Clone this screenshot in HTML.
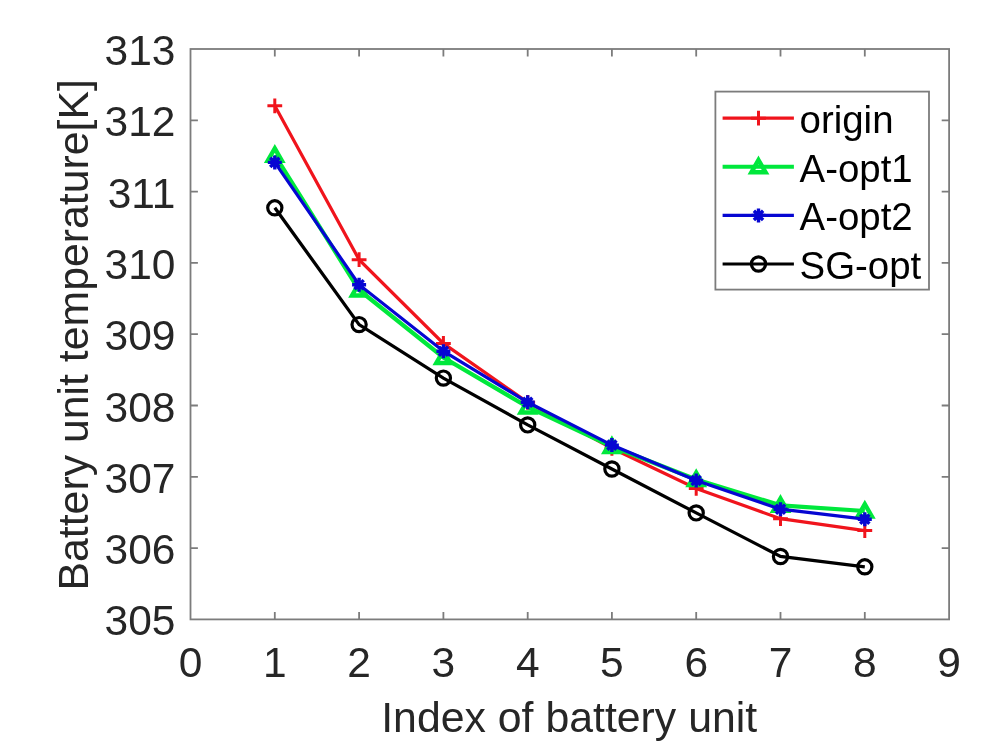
<!DOCTYPE html>
<html lang="en"><head><meta charset="utf-8"><title>Battery unit temperature</title>
<style>html,body{margin:0;padding:0;background:#fff;}body{width:1001px;height:754px;overflow:hidden;}svg{display:block;filter:blur(0.55px);}text{font-family:"Liberation Sans",sans-serif;}</style></head><body>
<svg width="1001" height="754" viewBox="0 0 1001 754">
<rect width="1001" height="754" fill="#fff"/>
<g stroke="#7c7c7c" stroke-width="1.8" fill="none">
<rect x="190.5" y="49.0" width="758.6" height="570.4"/>
<path d="M274.8 619.4 v-7.4 M274.8 49.0 v7.4"/>
<path d="M359.1 619.4 v-7.4 M359.1 49.0 v7.4"/>
<path d="M443.4 619.4 v-7.4 M443.4 49.0 v7.4"/>
<path d="M527.7 619.4 v-7.4 M527.7 49.0 v7.4"/>
<path d="M611.9 619.4 v-7.4 M611.9 49.0 v7.4"/>
<path d="M696.2 619.4 v-7.4 M696.2 49.0 v7.4"/>
<path d="M780.5 619.4 v-7.4 M780.5 49.0 v7.4"/>
<path d="M864.8 619.4 v-7.4 M864.8 49.0 v7.4"/>
<path d="M190.5 548.1 h7.4 M949.1 548.1 h-7.4"/>
<path d="M190.5 476.8 h7.4 M949.1 476.8 h-7.4"/>
<path d="M190.5 405.5 h7.4 M949.1 405.5 h-7.4"/>
<path d="M190.5 334.2 h7.4 M949.1 334.2 h-7.4"/>
<path d="M190.5 262.9 h7.4 M949.1 262.9 h-7.4"/>
<path d="M190.5 191.6 h7.4 M949.1 191.6 h-7.4"/>
<path d="M190.5 120.3 h7.4 M949.1 120.3 h-7.4"/>
</g>
<g fill="#262626" font-size="42.5">
<text x="190.5" y="677" text-anchor="middle">0</text>
<text x="274.8" y="677" text-anchor="middle">1</text>
<text x="359.1" y="677" text-anchor="middle">2</text>
<text x="443.4" y="677" text-anchor="middle">3</text>
<text x="527.7" y="677" text-anchor="middle">4</text>
<text x="611.9" y="677" text-anchor="middle">5</text>
<text x="696.2" y="677" text-anchor="middle">6</text>
<text x="780.5" y="677" text-anchor="middle">7</text>
<text x="864.8" y="677" text-anchor="middle">8</text>
<text x="949.1" y="677" text-anchor="middle">9</text>
<text x="175.5" y="635.4" text-anchor="end">305</text>
<text x="175.5" y="564.1" text-anchor="end">306</text>
<text x="175.5" y="492.8" text-anchor="end">307</text>
<text x="175.5" y="421.5" text-anchor="end">308</text>
<text x="175.5" y="350.2" text-anchor="end">309</text>
<text x="175.5" y="278.9" text-anchor="end">310</text>
<text x="175.5" y="207.6" text-anchor="end">311</text>
<text x="175.5" y="136.3" text-anchor="end">312</text>
<text x="175.5" y="65.0" text-anchor="end">313</text>
</g>
<text x="569.2" y="732" text-anchor="middle" font-size="42.8" fill="#262626">Index of battery unit</text>
<text transform="translate(88 334.8) rotate(-90)" text-anchor="middle" font-size="42.8" fill="#262626">Battery unit temperature[K]</text>
<g stroke="#f0141c" fill="none" stroke-width="3.2"><polyline points="274.8,105.8 359.1,259.7 443.4,343.4 527.7,402.3 611.9,448.3 696.2,488.4 780.5,518.7 864.8,530.6"/><path d="M267.4 105.8 h14.8 M274.8 98.4 v14.8" stroke-width="3"/><path d="M351.7 259.7 h14.8 M359.1 252.3 v14.8" stroke-width="3"/><path d="M436.0 343.4 h14.8 M443.4 336.0 v14.8" stroke-width="3"/><path d="M520.3 402.3 h14.8 M527.7 394.9 v14.8" stroke-width="3"/><path d="M604.5 448.3 h14.8 M611.9 440.9 v14.8" stroke-width="3"/><path d="M688.8 488.4 h14.8 M696.2 481.0 v14.8" stroke-width="3"/><path d="M773.1 518.7 h14.8 M780.5 511.3 v14.8" stroke-width="3"/><path d="M857.4 530.6 h14.8 M864.8 523.2 v14.8" stroke-width="3"/></g>
<g stroke="#00e83c" fill="none" stroke-width="4.2"><polyline points="274.8,155.2 359.1,290.0 443.4,357.5 527.7,407.0 611.9,446.5 696.2,479.5 780.5,505.3 864.8,511.0"/><path d="M274.8 148.4 L281.9 160.7 L267.7 160.7 Z" stroke-width="4.4" fill="none" stroke-linejoin="miter"/><path d="M359.1 283.2 L366.2 295.5 L352.0 295.5 Z" stroke-width="4.4" fill="none" stroke-linejoin="miter"/><path d="M443.4 350.7 L450.5 363.0 L436.3 363.0 Z" stroke-width="4.4" fill="none" stroke-linejoin="miter"/><path d="M527.7 400.2 L534.8 412.5 L520.6 412.5 Z" stroke-width="4.4" fill="none" stroke-linejoin="miter"/><path d="M611.9 439.7 L619.0 452.0 L604.8 452.0 Z" stroke-width="4.4" fill="none" stroke-linejoin="miter"/><path d="M696.2 472.7 L703.3 485.0 L689.1 485.0 Z" stroke-width="4.4" fill="none" stroke-linejoin="miter"/><path d="M780.5 498.5 L787.6 510.8 L773.4 510.8 Z" stroke-width="4.4" fill="none" stroke-linejoin="miter"/><path d="M864.8 504.2 L871.9 516.5 L857.7 516.5 Z" stroke-width="4.4" fill="none" stroke-linejoin="miter"/></g>
<g stroke="#0606d2" fill="none" stroke-width="3.2"><polyline points="274.8,162.4 359.1,284.7 443.4,351.2 527.7,402.3 611.9,445.1 696.2,480.5 780.5,509.2 864.8,519.2"/><path d="M267.8 162.4 h14.0 M274.8 155.4 v14.0 M270.2 157.8 l9.2 9.2 M270.2 167.0 l9.2 -9.2" stroke-width="3.4"/><path d="M352.1 284.7 h14.0 M359.1 277.7 v14.0 M354.5 280.1 l9.2 9.2 M354.5 289.3 l9.2 -9.2" stroke-width="3.4"/><path d="M436.4 351.2 h14.0 M443.4 344.2 v14.0 M438.8 346.6 l9.2 9.2 M438.8 355.8 l9.2 -9.2" stroke-width="3.4"/><path d="M520.7 402.3 h14.0 M527.7 395.3 v14.0 M523.1 397.7 l9.2 9.2 M523.1 406.9 l9.2 -9.2" stroke-width="3.4"/><path d="M604.9 445.1 h14.0 M611.9 438.1 v14.0 M607.3 440.5 l9.2 9.2 M607.3 449.7 l9.2 -9.2" stroke-width="3.4"/><path d="M689.2 480.5 h14.0 M696.2 473.5 v14.0 M691.6 475.9 l9.2 9.2 M691.6 485.1 l9.2 -9.2" stroke-width="3.4"/><path d="M773.5 509.2 h14.0 M780.5 502.2 v14.0 M775.9 504.6 l9.2 9.2 M775.9 513.8 l9.2 -9.2" stroke-width="3.4"/><path d="M857.8 519.2 h14.0 M864.8 512.2 v14.0 M860.2 514.6 l9.2 9.2 M860.2 523.8 l9.2 -9.2" stroke-width="3.4"/></g>
<g stroke="#000" fill="none" stroke-width="3.3"><polyline points="274.8,207.8 359.1,324.6 443.4,378.1 527.7,424.9 611.9,469.0 696.2,512.9 780.5,556.5 864.8,566.8"/><circle cx="274.8" cy="207.8" r="7.1" stroke-width="3.2" fill="none"/><circle cx="359.1" cy="324.6" r="7.1" stroke-width="3.2" fill="none"/><circle cx="443.4" cy="378.1" r="7.1" stroke-width="3.2" fill="none"/><circle cx="527.7" cy="424.9" r="7.1" stroke-width="3.2" fill="none"/><circle cx="611.9" cy="469.0" r="7.1" stroke-width="3.2" fill="none"/><circle cx="696.2" cy="512.9" r="7.1" stroke-width="3.2" fill="none"/><circle cx="780.5" cy="556.5" r="7.1" stroke-width="3.2" fill="none"/><circle cx="864.8" cy="566.8" r="7.1" stroke-width="3.2" fill="none"/></g>
<rect x="715.4" y="91.6" width="213.6" height="198.0" fill="#fff" stroke="#7c7c7c" stroke-width="1.8"/>
<g fill="none">
<g stroke="#f0141c" stroke-width="3.2"><path d="M722.6 118.2 H793.9"/><path d="M751.1 118.2 h14.8 M758.5 110.8 v14.8" stroke-width="3"/></g>
<g stroke="#00e83c" stroke-width="4.0"><path d="M722.6 166.8 H793.9"/><path d="M758.5 160.0 L765.6 172.3 L751.4 172.3 Z" stroke-width="4.4" fill="none" stroke-linejoin="miter"/></g>
<g stroke="#0606d2" stroke-width="3.1"><path d="M722.6 215.4 H793.9"/><path d="M751.5 215.4 h14.0 M758.5 208.4 v14.0 M753.9 210.8 l9.2 9.2 M753.9 220.0 l9.2 -9.2" stroke-width="3.4"/></g>
<g stroke="#000" stroke-width="3.1"><path d="M722.6 264.0 H793.9"/><circle cx="758.5" cy="264.0" r="7.1" stroke-width="3.2" fill="none"/></g>
</g>
<g fill="#000" font-size="38.4">
<text x="799.6" y="133.1">origin</text>
<text x="799.6" y="181.7">A-opt1</text>
<text x="799.6" y="230.3">A-opt2</text>
<text x="799.6" y="278.9">SG-opt</text>
</g>
</svg></body></html>
